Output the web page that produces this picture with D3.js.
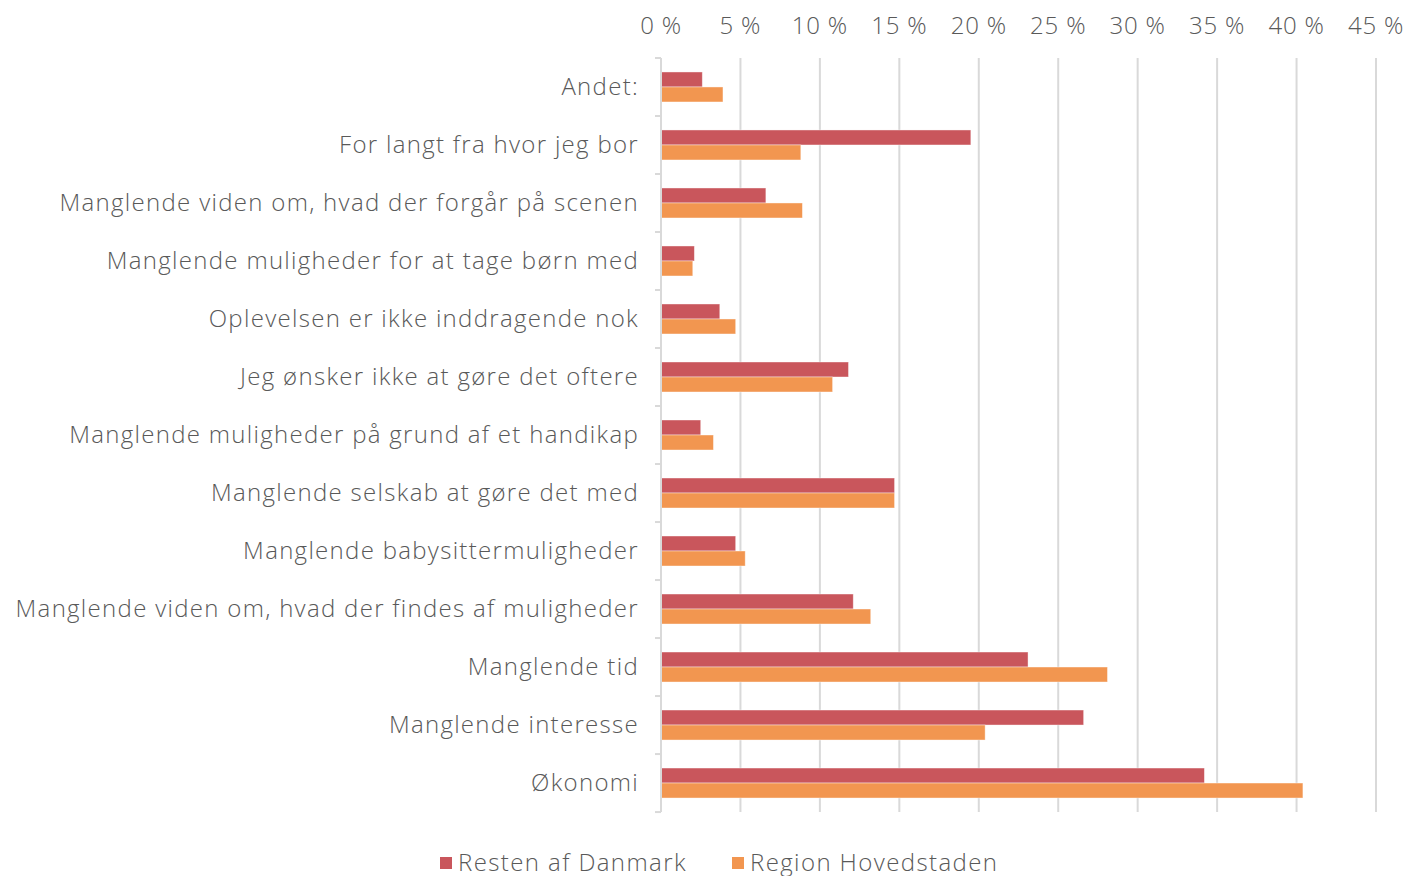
<!DOCTYPE html>
<html>
<head>
<meta charset="utf-8">
<script src="https://cdn.jsdelivr.net/npm/d3@7"></script>
<style>
  body { margin: 0; background: #fff; }
  svg text { font-family: "Open Sans", Lato, sans-serif; font-weight: 300; fill: #595959; }
</style>
</head>
<body>
<svg id="chart" width="1407" height="876"></svg>
<script>
// categories top to bottom
const categories = [
  "Andet:",
  "For langt fra hvor jeg bor",
  "Manglende viden om, hvad der forgår på scenen",
  "Manglende muligheder for at tage børn med",
  "Oplevelsen er ikke inddragende nok",
  "Jeg ønsker ikke at gøre det oftere",
  "Manglende muligheder på grund af et handikap",
  "Manglende selskab at gøre det med",
  "Manglende babysittermuligheder",
  "Manglende viden om, hvad der findes af muligheder",
  "Manglende tid",
  "Manglende interesse",
  "Økonomi"
];
const restenAfDanmark = [2.6, 19.5, 6.6, 2.1, 3.7, 11.8, 2.5, 14.7, 4.7, 12.1, 23.1, 26.6, 34.2];
const regionHovedstaden = [3.9, 8.8, 8.9, 2.0, 4.7, 10.8, 3.3, 14.7, 5.3, 13.2, 28.1, 20.4, 40.4];
const seriesNames = ["Resten af Danmark", "Region Hovedstaden"];
const seriesColors = ["#c9565c", "#f29650"];
const xTicks = [0, 5, 10, 15, 20, 25, 30, 35, 40, 45];

const margin = { top: 58, right: 31, bottom: 64, left: 661 };
const width = 1407, height = 876;

const svg = d3.select("#chart");

const x = d3.scaleLinear().domain([0, 45]).range([margin.left, width - margin.right]);
const y = d3.scaleBand().domain(categories).range([margin.top, height - margin.bottom]).paddingInner(0.483).paddingOuter(0.241);
const ySub = d3.scaleBand().domain([0, 1]).range([0, y.bandwidth()]);

// gridlines
svg.append("g")
  .selectAll("line")
  .data(xTicks.slice(1))
  .join("line")
  .attr("x1", d => x(d)).attr("x2", d => x(d))
  .attr("y1", margin.top).attr("y2", height - margin.bottom)
  .attr("stroke", "#d9d9d9")
  .attr("stroke-width", 2);

// top axis labels
svg.append("g")
  .selectAll("text")
  .data(xTicks)
  .join("text")
  .attr("x", d => x(d))
  .attr("y", 34)
  .attr("text-anchor", "middle")
  .style("font-size", "24px")
  .style("letter-spacing", "0.8px")
  .text(d => d + " %");

// bars
const rows = categories.map((c, i) => ({ c, vals: [restenAfDanmark[i], regionHovedstaden[i]] }));
const g = svg.append("g");
rows.forEach(r => {
  r.vals.forEach((v, k) => {
    g.append("rect")
      .attr("x", x(0))
      .attr("y", y(r.c) + ySub(k))
      .attr("width", x(v) - x(0))
      .attr("height", ySub.bandwidth())
      .attr("fill", seriesColors[k])
      .attr("stroke", "#fff")
      .attr("stroke-opacity", 0.5)
      .attr("stroke-width", 0.8);
  });
});

// category axis with outer ticks at band boundaries
const step = y.step();
const bounds = d3.range(categories.length + 1).map(i => margin.top + i * step);
const axisG = svg.append("g");
axisG.append("line")
  .attr("x1", x(0)).attr("x2", x(0))
  .attr("y1", margin.top).attr("y2", height - margin.bottom)
  .attr("stroke", "#d9d9d9").attr("stroke-width", 2);
axisG.selectAll("line.tick")
  .data(bounds)
  .join("line")
  .attr("class", "tick")
  .attr("x1", x(0) - 6).attr("x2", x(0))
  .attr("y1", d => d).attr("y2", d => d)
  .attr("stroke", "#d9d9d9").attr("stroke-width", 2);
axisG.selectAll("text")
  .data(categories)
  .join("text")
  .attr("x", x(0) - 22)
  .attr("y", d => y(d) + y.bandwidth() / 2)
  .attr("dy", "0.35em")
  .attr("text-anchor", "end")
  .style("font-size", "24px")
  .style("letter-spacing", "1.3px")
  .text(d => d);

// legend
const legendX = [440, 732];
const legend = svg.append("g");
seriesNames.forEach((name, k) => {
  legend.append("rect")
    .attr("x", legendX[k]).attr("y", 857)
    .attr("width", 12).attr("height", 12)
    .attr("fill", seriesColors[k]);
  legend.append("text")
    .attr("x", legendX[k] + 18).attr("y", 871)
    .style("font-size", "24px")
    .style("letter-spacing", "1.4px")
    .text(name);
});
</script>
</body>
</html>
